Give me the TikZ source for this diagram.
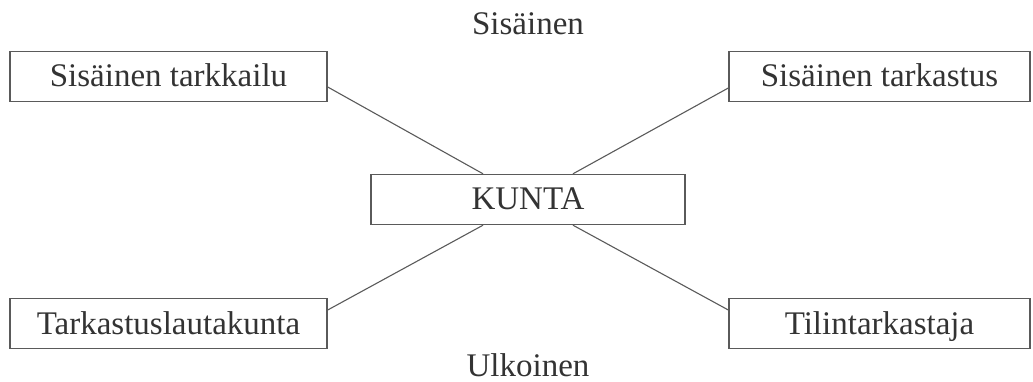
\documentclass[tikz,border=0pt]{standalone}
\usepackage{fontspec}
\setmainfont{Liberation Serif}
\usetikzlibrary{calc}
\definecolor{linegray}{HTML}{5A5A5A}
\definecolor{textgray}{HTML}{333333}
\tikzset{
  box/.style={draw=linegray, line width=1.4pt, rectangle, inner sep=0pt,
    minimum height=50pt, text height=24pt, text depth=3pt,
    text=textgray, font=\fontsize{33}{36}\selectfont},
  lbl/.style={text=textgray, font=\fontsize{33}{36}\selectfont, inner sep=0pt},
  conn/.style={draw=linegray, line width=1.1pt}
}
\begin{document}
\begin{tikzpicture}[x=1pt,y=-1pt]
\useasboundingbox (0,0) rectangle (1033,382);
\node[box, minimum width=317pt] (tl) at (168.5,76.5) {Sisäinen tarkkailu};
\node[box, minimum width=301pt] (tr) at (879.5,76.5) {Sisäinen tarkastus};
\node[box, minimum width=314pt] (c) at (528,199.5) {KUNTA};
\node[box, minimum width=317pt] (bl) at (168.5,323.5) {Tarkastuslautakunta};
\node[box, minimum width=301pt] (br) at (879.5,323.5) {Tilintarkastaja};
\node[lbl, anchor=base] (top) at (528,35) {Sisäinen};
\node[lbl, anchor=base] (bot) at (528,376) {Ulkoinen};
\coordinate (tla) at ($(tl.east)+(0,10.5)$);
\coordinate (tra) at ($(tr.west)+(0,11.5)$);
\coordinate (bla) at ($(bl.east)+(0,-13.5)$);
\coordinate (bra) at ($(br.west)+(0,-13.5)$);
\coordinate (cnw) at ($(c.north)+(-45,0)$);
\coordinate (cne) at ($(c.north)+(45,0)$);
\coordinate (csw) at ($(c.south)+(-45,0)$);
\coordinate (cse) at ($(c.south)+(45,0)$);
\draw[conn] (tla) -- (cnw);
\draw[conn] (tra) -- (cne);
\draw[conn] (bla) -- (csw);
\draw[conn] (bra) -- (cse);
\end{tikzpicture}
\end{document}
